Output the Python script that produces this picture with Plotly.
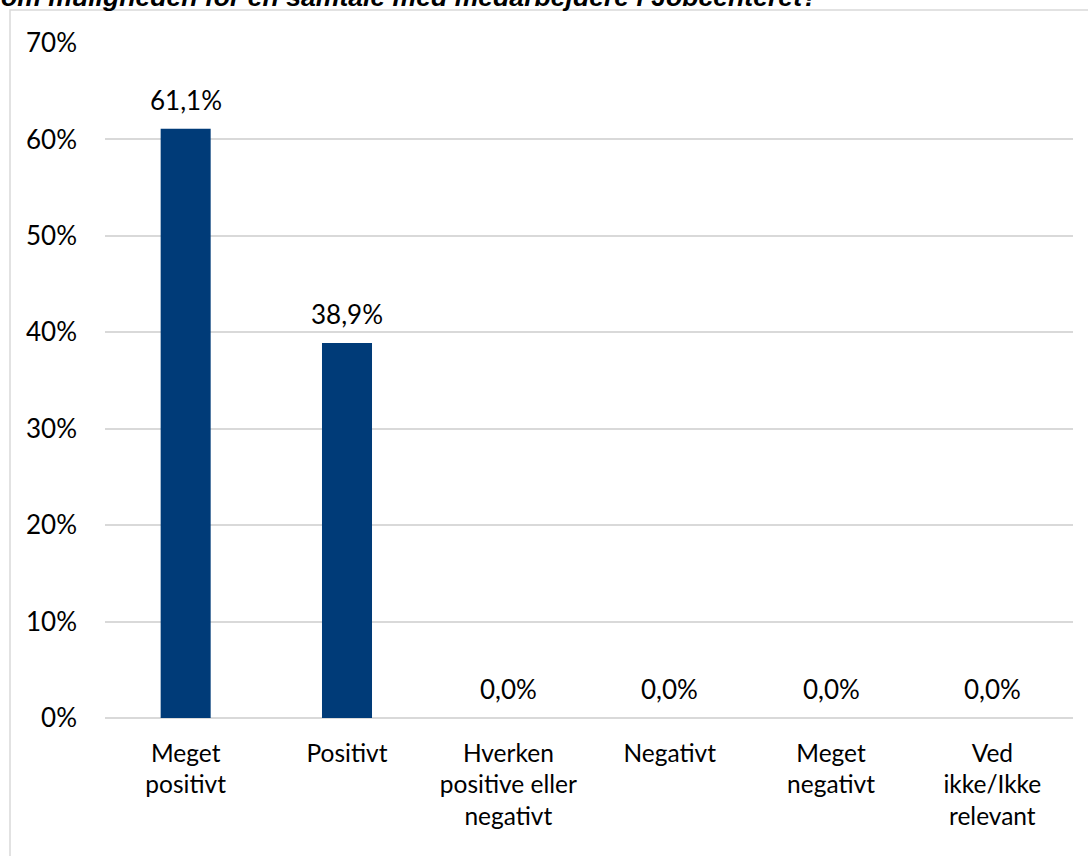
import plotly.graph_objects as go

categories = ["Meget<br>positivt", "Positivt", "Hverken<br>positive eller<br>negativt",
              "Negativt", "Meget<br>negativt", "Ved<br>ikke/Ikke<br>relevant"]
values = [0.611, 0.389, 0.0, 0.0, 0.0, 0.0]
title_text = "om muligheden for en samtale med medarbejdere i Jobcenteret?"

FONT = "Lato"
FS = 26
W, H = 1088, 856
ml, mr, mt, mb = 105, 15, 43, 138
pw, ph = W - ml - mr, H - mt - mb

def px_to_paper_x(px):
    return (px - ml) / pw

def px_to_paper_y(py):
    return (H - mb - py) / ph

fig = go.Figure()
fig.add_trace(go.Bar(
    x=categories, y=values,
    marker=dict(color="#003B78", line=dict(width=0)),
    hoverinfo="skip",
))

for c, v in zip(categories, values):
    fig.add_annotation(
        x=c, y=v, xref="x", yref="y",
        text=f"{v*100:.1f}%".replace(".", ","),
        showarrow=False, yanchor="bottom", yshift=11,
        font=dict(family=FONT, size=FS, color="#000000"),
    )

# title (cut off at top of the image)
fig.add_annotation(
    x=px_to_paper_x(-1), y=px_to_paper_y(-3), xref="paper", yref="paper",
    xanchor="left", yanchor="middle", showarrow=False,
    text=f"<b><i>{title_text}</i></b>",
    font=dict(family="Liberation Sans", size=26.6, color="#000000"),
)

# outer chart border
fig.add_shape(
    type="rect", xref="paper", yref="paper",
    x0=px_to_paper_x(10), y0=px_to_paper_y(H + 20),
    x1=px_to_paper_x(W + 20), y1=px_to_paper_y(10),
    line=dict(color="#D9D9D9", width=1.5), fillcolor="rgba(0,0,0,0)", layer="below",
)

fig.update_layout(
    width=W, height=H,
    margin=dict(l=ml, r=mr, t=mt, b=mb, autoexpand=False),
    paper_bgcolor="white", plot_bgcolor="white",
    showlegend=False, bargap=0.69,
    font=dict(family=FONT, size=FS, color="#000000"),
)
fig.update_xaxes(
    type="category", tickangle=0, showgrid=False, showline=False,
    ticks="", ticklabelstandoff=18,
    tickfont=dict(family=FONT, size=24.5, color="#000000"),
)
fig.update_yaxes(
    range=[0, 0.7], dtick=0.1, tickformat=".0%",
    showgrid=True, gridcolor="#D9D9D9", gridwidth=1.5,
    zeroline=True, zerolinecolor="#D9D9D9", zerolinewidth=1.5,
    showline=False, ticks="", ticklabelstandoff=27,
    tickfont=dict(family=FONT, size=FS, color="#000000"),
)

fig.write_html("out.html")
